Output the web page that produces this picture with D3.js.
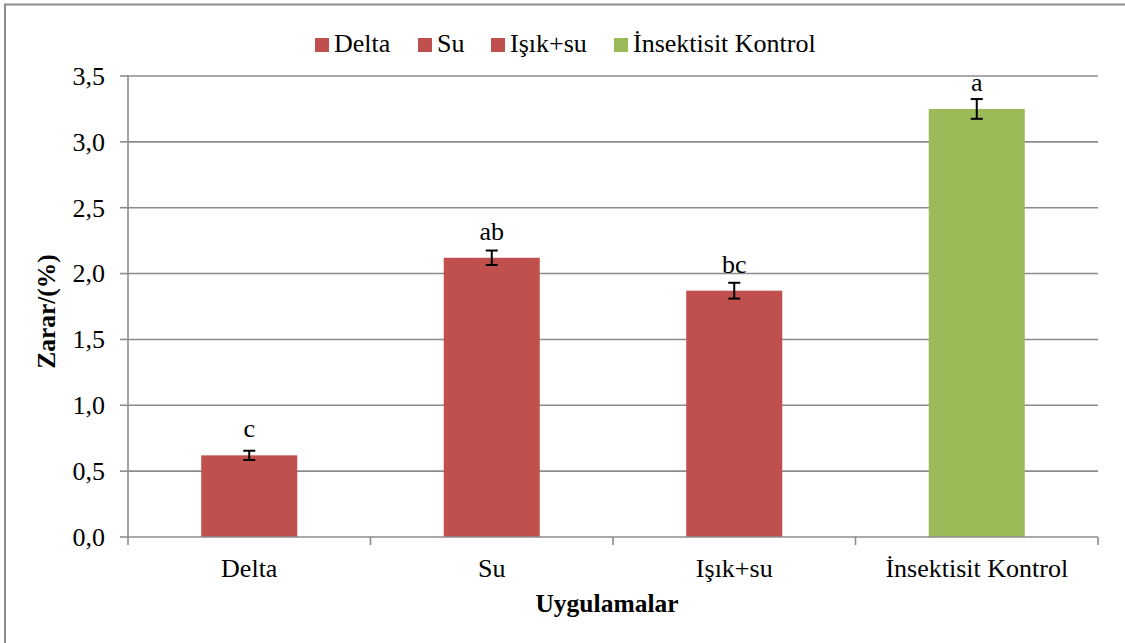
<!DOCTYPE html>
<html>
<head>
<meta charset="utf-8">
<script src="https://cdn.jsdelivr.net/npm/d3@7"></script>
<style>
  body { margin: 0; background: #fff; }
  svg text { font-family: "Liberation Serif", "Times New Roman", Tinos, "DejaVu Serif", serif; fill: #000; }
</style>
</head>
<body>
<script>
const categories = ["Delta", "Su", "Işık+su", "İnsektisit Kontrol"];
const values = [0.62, 2.12, 1.87, 3.25];
const errors = [0.035, 0.055, 0.06, 0.075];
const letters = ["c", "ab", "bc", "a"];
const yTicks = [0, 0.5, 1, 1.5, 2, 2.5, 3, 3.5];
const colors = ["#c0504d", "#c0504d", "#c0504d", "#9bbb59"];

const W = 1125, H = 643;
const margin = { top: 76, right: 27, bottom: 106, left: 128 };
const width = W - margin.left - margin.right,
  height = H - margin.top - margin.bottom;

const svg = d3.select("body").append("svg")
  .attr("width", W)
  .attr("height", H);

// outer frame
svg.append("rect")
  .attr("x", 5).attr("y", 4.5)
  .attr("width", W + 10).attr("height", H + 10)
  .attr("fill", "none")
  .attr("stroke", "#8c8c8c")
  .attr("stroke-width", 2);

const g = svg.append("g")
  .attr("transform", "translate(" + margin.left + "," + margin.top + ")");

const x = d3.scaleBand()
  .domain(categories)
  .range([0, width])
  .paddingInner(0.604)
  .paddingOuter(0.302);

const xb = d3.scaleBand().domain(categories).range([0, width]);

const y = d3.scaleLinear()
  .domain([0, 3.5])
  .range([height, 0]);

const fmt = d => d3.format(".1f")(d).replace(".", ",");

// gridlines
g.append("g")
  .selectAll("line")
  .data(yTicks.filter(d => d > 0))
  .enter().append("line")
  .attr("x1", 0).attr("x2", width)
  .attr("y1", d => y(d)).attr("y2", d => y(d))
  .attr("stroke", "#8c8c8c")
  .attr("stroke-width", 1.6);

// y axis
g.append("g")
  .selectAll("line")
  .data(yTicks)
  .enter().append("line")
  .attr("x1", -8).attr("x2", 0)
  .attr("y1", d => y(d)).attr("y2", d => y(d))
  .attr("stroke", "#8c8c8c")
  .attr("stroke-width", 1.6);

g.append("line")
  .attr("x1", 0).attr("x2", 0)
  .attr("y1", 0).attr("y2", height + 8)
  .attr("stroke", "#8c8c8c")
  .attr("stroke-width", 1.6);

g.append("g")
  .selectAll("text")
  .data(yTicks)
  .enter().append("text")
  .attr("x", -23)
  .attr("y", d => y(d))
  .attr("dy", "0.34em")
  .attr("text-anchor", "end")
  .style("font-size", "26px")
  .text(fmt);

// bars
g.selectAll(".bar")
  .data(values)
  .enter().append("rect")
  .attr("class", "bar")
  .attr("x", (d, i) => x(categories[i]))
  .attr("width", x.bandwidth())
  .attr("y", d => y(d))
  .attr("height", d => height - y(d))
  .attr("fill", (d, i) => colors[i]);

// x axis
g.append("line")
  .attr("x1", 0).attr("x2", width)
  .attr("y1", height).attr("y2", height)
  .attr("stroke", "#8c8c8c")
  .attr("stroke-width", 1.6);

g.append("g")
  .selectAll("line")
  .data(categories.slice(1).concat(["end"]))
  .enter().append("line")
  .attr("x1", (d, i) => xb.step() * (i + 1))
  .attr("x2", (d, i) => xb.step() * (i + 1))
  .attr("y1", height).attr("y2", height + 8)
  .attr("stroke", "#8c8c8c")
  .attr("stroke-width", 1.6);

g.append("g")
  .selectAll("text")
  .data(categories)
  .enter().append("text")
  .attr("x", d => xb(d) + xb.bandwidth() / 2)
  .attr("y", height + 40)
  .attr("text-anchor", "middle")
  .style("font-size", "26px")
  .text(d => d);

// error bars
const eb = g.selectAll(".err")
  .data(values)
  .enter().append("g")
  .attr("class", "err")
  .attr("transform", (d, i) => "translate(" + (x(categories[i]) + x.bandwidth() / 2) + ",0)");

eb.append("line")
  .attr("y1", (d, i) => y(d + errors[i]))
  .attr("y2", (d, i) => y(d - errors[i]))
  .attr("stroke", "#000").attr("stroke-width", 2);
eb.append("line")
  .attr("x1", -6).attr("x2", 6)
  .attr("y1", (d, i) => y(d + errors[i]))
  .attr("y2", (d, i) => y(d + errors[i]))
  .attr("stroke", "#000").attr("stroke-width", 2);
eb.append("line")
  .attr("x1", -6).attr("x2", 6)
  .attr("y1", (d, i) => y(d - errors[i]))
  .attr("y2", (d, i) => y(d - errors[i]))
  .attr("stroke", "#000").attr("stroke-width", 2);

// significance letters
g.selectAll(".lbl")
  .data(values)
  .enter().append("text")
  .attr("class", "lbl")
  .attr("x", (d, i) => x(categories[i]) + x.bandwidth() / 2)
  .attr("y", d => y(d) - 18)
  .attr("text-anchor", "middle")
  .style("font-size", "26px")
  .text((d, i) => letters[i]);

// axis titles
svg.append("text")
  .attr("x", margin.left + width / 2 - 6)
  .attr("y", 612)
  .attr("text-anchor", "middle")
  .style("font-size", "25.5px")
  .style("font-weight", "bold")
  .text("Uygulamalar");

svg.append("text")
  .attr("transform", "translate(55," + (margin.top + height / 2 + 5) + ") rotate(-90)")
  .attr("text-anchor", "middle")
  .style("font-size", "25.5px")
  .style("font-weight", "bold")
  .text("Zarar/(%)");

// legend
const legendX = [315, 418, 491, 614];
const legend = svg.selectAll(".legend")
  .data(categories)
  .enter().append("g")
  .attr("class", "legend")
  .attr("transform", (d, i) => "translate(" + legendX[i] + ",38)");

legend.append("rect")
  .attr("width", 14).attr("height", 14)
  .attr("fill", (d, i) => colors[i]);

legend.append("text")
  .attr("x", 19)
  .attr("y", 14)
  .style("font-size", "26px")
  .text(d => d);
</script>
</body>
</html>
